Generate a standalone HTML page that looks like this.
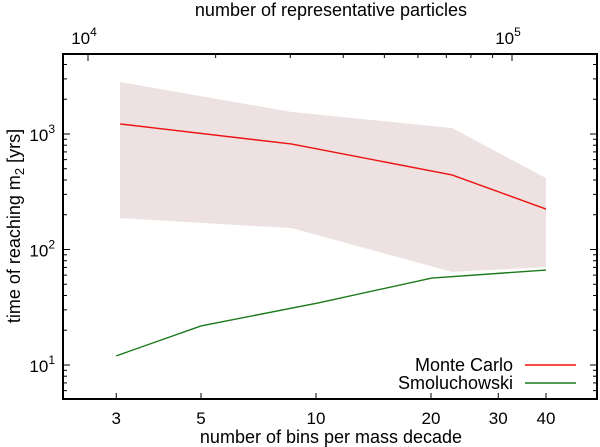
<!DOCTYPE html>
<html><head><meta charset="utf-8"><style>
html,body{margin:0;padding:0;background:#fff;}
svg{display:block;font-family:"Liberation Sans",sans-serif;}
</style></head><body>
<svg id="chart" width="600" height="447" viewBox="0 0 600 447"></svg>
<script>
const mcX=[3.07,8.65,22.7,40];
const mcY=[1222,818,442,224];
const mcUpper=[2820,1550,1126,415];
const mcLower=[187,153,64,70.5];
const smX=[3,5,10.1,20.1,40];
const smY=[12,21.8,34.4,56.6,66.4];
const xTicks=[3,5,10,20,30,40];
const yTicks=[10,100,1000];
const topTicks=[10000,100000];

const L=63,R=597,T=54,B=399;
const ns="http://www.w3.org/2000/svg";
const svg=document.getElementById('chart');
function xs(v){return 316+(Math.log10(v)-1)*382;}
function ys(v){return 365-(Math.log10(v)-1)*115.5;}
function xt(n){return 88+(Math.log10(n)-4)*424;}
function mk(tag,attrs,parent){const e=document.createElementNS(ns,tag);for(const k in attrs)e.setAttribute(k,attrs[k]);(parent||svg).appendChild(e);return e;}
function txt(s,x,y,attrs,parent){const e=mk('text',Object.assign({x:x,y:y},attrs||{}),parent);e.textContent=s;return e;}

let pts=mcX.map((x,i)=>xs(x)+','+ys(mcUpper[i]));
for(let i=mcX.length-1;i>=0;i--)pts.push(xs(mcX[i])+','+ys(mcLower[i]));
const band=mk('polygon',{points:pts.join(' '),fill:'#ede1e1'});



const mc=mk('polyline',{points:mcX.map((x,i)=>xs(x)+','+ys(mcY[i])).join(' '),fill:'none',stroke:'#ee1111','stroke-width':1.4});


const sm=mk('polyline',{points:smX.map((x,i)=>xs(x)+','+ys(smY[i])).join(' '),fill:'none',stroke:'#1a7a1a','stroke-width':1.4});



const tk={stroke:'#000','stroke-width':1};
for(const v of xTicks){const x=xs(v);
 mk('line',Object.assign({x1:x,x2:x,y1:B,y2:B-6},tk));
 const t=txt(String(v),x,B+25,{'text-anchor':'middle','font-size':17});
 
 }
for(let d=1;d<=4;d++){for(let m=1;m<=9;m++){const v=m*Math.pow(10,d-1);const y=ys(v);if(y<T||y>B)continue;const len=m==1?7:4;
 mk('line',Object.assign({x1:L,x2:L+len,y1:y,y2:y},tk));mk('line',Object.assign({x1:R,x2:R-len,y1:y,y2:y},tk));}}
for(const v of yTicks){const y=ys(v);const e=Math.round(Math.log10(v));
 const t=txt('10',L-8,y+7,{'text-anchor':'end','font-size':17});
 const s=mk('tspan',{dy:-8,'font-size':12},t);s.textContent=e;
 
 }
for(let d=4;d<=5;d++){for(let m=1;m<=9;m++){const x=xt(m*Math.pow(10,d));if(x<L||x>R)continue;const len=m==1?7:4;
 mk('line',Object.assign({x1:x,x2:x,y1:T,y2:T+len},tk));}}
for(const n of topTicks){const e=Math.round(Math.log10(n));
 const t=txt('10',xt(n)-4,T-10,{'text-anchor':'middle','font-size':17});
 const s=mk('tspan',{dy:-8,'font-size':12},t);s.textContent=e;
 
 }

const frame=mk('rect',{x:L,y:T,width:R-L,height:B-T,fill:'none',stroke:'#000','stroke-width':2});



const xl=txt('number of bins per mass decade',331,443,{'text-anchor':'middle','font-size':18});


const tl=txt('number of representative particles',331,16,{'text-anchor':'middle','font-size':18});


const yl=txt('time of reaching m',0,0,{'text-anchor':'middle','font-size':18,transform:'translate(20,226) rotate(-90)'});
const sub=mk('tspan',{dy:4,'font-size':13},yl);sub.textContent='2';
const rest=mk('tspan',{dy:-4},yl);rest.textContent=' [yrs]';



const g1=mk('g',{});


txt('Monte Carlo',513,371,{'text-anchor':'end','font-size':18},g1);
mk('line',{x1:525,x2:576,y1:365,y2:365,stroke:'#ee1111','stroke-width':1.4},g1);
const g2=mk('g',{});


txt('Smoluchowski',513,389,{'text-anchor':'end','font-size':18},g2);
mk('line',{x1:525,x2:576,y1:383,y2:383,stroke:'#1a7a1a','stroke-width':1.4},g2);
</script>
</body></html>
